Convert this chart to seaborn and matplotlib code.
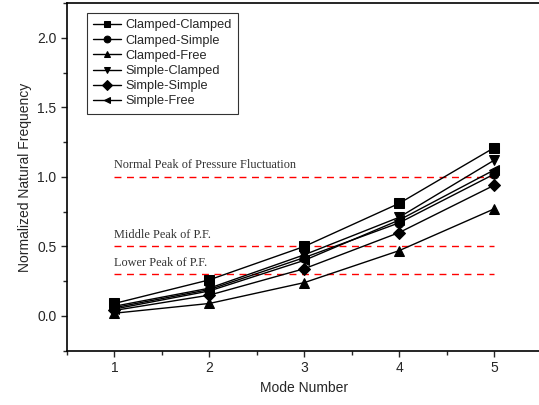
import pandas as pd
import seaborn as sns
import matplotlib.pyplot as plt
from matplotlib.ticker import MultipleLocator

modes = [1, 2, 3, 4, 5]
conditions = ['Clamped-Clamped', 'Clamped-Simple', 'Clamped-Free',
              'Simple-Clamped', 'Simple-Simple', 'Simple-Free']
clamped_clamped = [0.09, 0.26, 0.50, 0.81, 1.21]
clamped_simple = [0.06, 0.19, 0.42, 0.67, 1.02]
clamped_free = [0.02, 0.09, 0.24, 0.47, 0.77]
simple_clamped = [0.07, 0.20, 0.44, 0.71, 1.12]
simple_simple = [0.04, 0.15, 0.34, 0.60, 0.94]
simple_free = [0.05, 0.18, 0.40, 0.69, 1.05]
peak_levels = [1.0, 0.5, 0.3]
peak_labels = ['Normal Peak of Pressure Fluctuation', 'Middle Peak of P.F.', 'Lower Peak of P.F.']

series = [clamped_clamped, clamped_simple, clamped_free,
          simple_clamped, simple_simple, simple_free]
rows = []
for name, vals in zip(conditions, series):
    for m, v in zip(modes, vals):
        rows.append({'Mode Number': m, 'Normalized Natural Frequency': v, 'Condition': name})
df = pd.DataFrame(rows)

sns.set_style('ticks')
plt.rcParams['font.family'] = ['Liberation Sans', 'DejaVu Sans']
plt.rcParams['xtick.direction'] = 'out'
plt.rcParams['ytick.direction'] = 'out'

fig = plt.figure(figsize=(5.39, 4.05), dpi=100)
ax = fig.add_axes([0.1243, 0.134, 0.8803, 0.858])

# reference lines
for lvl, lab in zip(peak_levels, peak_labels):
    ax.hlines(lvl, modes[0], modes[-1], colors='red', linestyles=(0, (5, 4)), linewidth=1)
    ax.text(modes[0], lvl + 0.04, lab, family=['Liberation Serif', 'DejaVu Serif'],
            fontsize=8.8, color='#333333', va='bottom', ha='left')

sns.lineplot(data=df, x='Mode Number', y='Normalized Natural Frequency', style='Condition',
             markers=['s', 'o', '^', 'v', 'D', '<'], dashes=False, color='black',
             linewidth=1, markersize=6.5, markeredgecolor='black', ax=ax)

ax.set_xlim(0.5, 5.5)
ax.set_ylim(-0.25, 2.25)
ax.xaxis.set_major_locator(MultipleLocator(1))
ax.xaxis.set_minor_locator(MultipleLocator(0.5))
ax.yaxis.set_major_locator(MultipleLocator(0.5))
ax.yaxis.set_minor_locator(MultipleLocator(0.25))
ax.tick_params(which='major', length=4, width=1, labelsize=10, top=False, right=False)
ax.tick_params(which='minor', length=3, width=1, top=False, right=False)
ax.set_xlabel('Mode Number', fontsize=10)
ax.set_ylabel('Normalized Natural Frequency', fontsize=10)
for s in ax.spines.values():
    s.set_linewidth(1.2)
    s.set_color('black')

leg = ax.legend(loc='upper left', bbox_to_anchor=(0.028, 0.99), fontsize=9.2, frameon=True,
                fancybox=False, edgecolor='black', handlelength=2.2, handletextpad=0.3,
                labelspacing=0.25, borderpad=0.5, markerscale=0.75)
leg.get_frame().set_linewidth(0.8)
leg.set_title(None)

fig.savefig('out.png', dpi=100)
